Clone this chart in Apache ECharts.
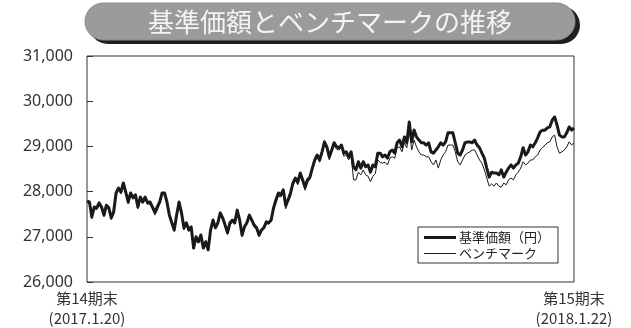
<!DOCTYPE html>
<html><head><meta charset="utf-8">
<script src="https://cdn.jsdelivr.net/npm/echarts@6/dist/echarts.min.js"></script>
<style>html,body{margin:0;padding:0;background:#fff}#c{width:631px;height:328px}</style>
</head><body><div id="c"></div>
<script>
const titleText = '基準価額とベンチマークの推移';
const seriesNames = ['基準価額（円）', 'ベンチマーク'];
const xLabels = ['第14期末\n(2017.1.20)', '第15期末\n(2018.1.22)'];
const yMin = 26000, yMax = 31000, yStep = 1000;

const fund = [
 27790,27770,27440,27660,27640,27750,27660,27480,27700,27640,27420,27550,27970,28080,27990,28190,27990,27770,27970,27860,27930,27660,27880,27770,27880,27750,27770,27660,27550,27660,27770,27970,27970,27770,27480,27310,27150,27480,27770,
 27530,27200,27310,27150,27220,26750,27000,26890,27040,26750,26890,26710,27150,27370,27200,27310,27530,27420,27260,27090,27310,27370,27310,27590,27370,27040,27220,27310,27480,27370,27260,27200,27040,27150,27200,27330,27310,27370,27640,
 27820,27970,27930,28040,27700,27820,27970,28190,28300,28210,28410,28260,28100,28260,28320,28520,28700,28810,28700,28880,29100,28990,28770,28920,29080,28990,28970,29030,28850,28880,28770,28880,
 28550,28480,28660,28520,28660,28550,28590,28430,28590,28550,28850,28850,28770,28810,28740,28880,28920,28850,29080,29140,28990,29210,29080,29540,
 29100,29360,29210,29140,29080,29080,29030,29080,28880,28850,28920,28990,29080,29030,29100,29300,29300,29300,29080,28850,28810,28920,29080,29100,29100,29080,
 29140,29030,28970,28850,28740,28520,28320,28430,28410,28410,28370,28480,28320,28430,28520,28590,28520,28590,28630,28770,28970,28810,28880,29030,28990,29080,29190,29320,29360,29360,29410,29430,29580,29650,29470,29250,29210,29210,29300,29430,29360,29410
];
const bench = [
 27770,27720,27400,27620,27600,27700,27620,27450,27660,27610,27380,27520,27930,28040,27950,28150,27960,27730,27930,27840,27900,27620,27850,27740,27850,27720,27730,27620,27480,27580,27740,27930,27950,27740,27450,27280,27120,27440,27740,
 27500,27150,27280,27120,27200,26800,26960,26860,27000,26800,26820,26760,27100,27330,27180,27260,27480,27380,27220,27050,27260,27320,27280,27540,27330,27000,27190,27280,27440,27340,27210,27160,27000,27110,27170,27290,27280,27330,27600,
 27750,27900,27880,27980,27620,27760,27900,28130,28250,28150,28360,28200,28030,28200,28270,28470,28660,28760,28650,28830,29050,28940,28700,28860,29030,28940,28920,28980,28780,28820,28700,28800,
 28260,28260,28430,28370,28480,28370,28340,28220,28340,28400,28700,28650,28630,28650,28590,28740,28770,28740,28970,28990,28880,29080,28970,29400,
 28920,29140,28990,28880,28810,28810,28770,28770,28660,28590,28700,28520,28700,28810,28880,29030,29030,29030,28880,28660,28590,28700,28810,28850,28880,28920,
 28920,28810,28700,28630,28480,28300,28120,28170,28120,28190,28120,28100,28190,28150,28260,28300,28260,28370,28430,28520,28660,28590,28630,28700,28700,28770,28810,28920,28970,29030,29080,29100,29210,29250,28990,28850,28880,28920,28990,29100,29030,29080
];

const N = fund.length;
const categories = fund.map((_, i) => i);
const FONT = "'Noto Sans', 'Noto Sans CJK JP', sans-serif";
const CJK = "'Noto Sans CJK JP', sans-serif";

const chart = echarts.init(document.getElementById('c'), null, {renderer: 'canvas'});
chart.setOption({
  backgroundColor: '#fff',
  animation: false,
  textStyle: {fontFamily: FONT},
  graphic: [
    {type: 'rect', shape: {x: 89, y: 6, width: 491, height: 38, r: 19}, style: {fill: '#1e1e1e'}, z: 1},
    {type: 'rect', shape: {x: 85, y: 3, width: 490, height: 37, r: 18.5}, style: {fill: '#9b9b9b', stroke: '#8a8a8a', lineWidth: 1}, z: 2},
    {type: 'text', x: 330, y: 22, style: {text: titleText, fill: '#f4f4f4', fontSize: 26, fontFamily: CJK, align: 'center', verticalAlign: 'middle'}, z: 3}
  ],
  legend: {
    data: [
      {name: seriesNames[0], icon: 'path://M0,0L0.01,0Z M0,4.5H32V7.5H0Z M0,12L0.01,12Z'},
      {name: seriesNames[1], icon: 'path://M0,0L0.01,0Z M0,5.5H32V6.5H0Z M0,12L0.01,12Z'}
    ],
    orient: 'vertical',
    left: 418, top: 227,
    itemWidth: 32, itemHeight: 12, itemGap: 3,
    padding: [4, 8, 3, 6],
    borderColor: '#333', borderWidth: 1, backgroundColor: '#fff',
    textStyle: {fontSize: 13, color: '#222', fontFamily: CJK, padding: [0, 0, 0, -2]}
  },
  grid: {left: 87, right: 57, top: 56, bottom: 46, show: true, borderColor: '#333', borderWidth: 1, backgroundColor: 'transparent'},
  xAxis: {
    type: 'category', data: categories, boundaryGap: false,
    axisLine: {show: false}, axisTick: {show: false}, splitLine: {show: false},
    axisLabel: {
      interval: (i) => i === 0 || i === N - 1,
      formatter: (v, i) => i === 0 ? xLabels[0] : (i === N - 1 ? xLabels[1] : ''),
      color: '#333', fontSize: 15, lineHeight: 20, margin: 6, fontFamily: CJK
    }
  },
  yAxis: {
    type: 'value', min: yMin, max: yMax, interval: yStep,
    axisLine: {show: false},
    axisTick: {show: true, inside: true, length: 6, lineStyle: {color: '#333'}},
    splitLine: {show: false},
    axisLabel: {color: '#333', fontSize: 16, margin: 14}
  },
  series: [
    {name: seriesNames[0], type: 'line', data: fund, symbol: 'none', lineStyle: {color: '#1a1a1a', width: 3, join: 'round'}, itemStyle: {color: '#1a1a1a'}, z: 3},
    {name: seriesNames[1], type: 'line', data: bench, symbol: 'none', lineStyle: {color: '#1a1a1a', width: 1}, itemStyle: {color: '#1a1a1a'}, z: 4}
  ]
});
</script></body></html>
